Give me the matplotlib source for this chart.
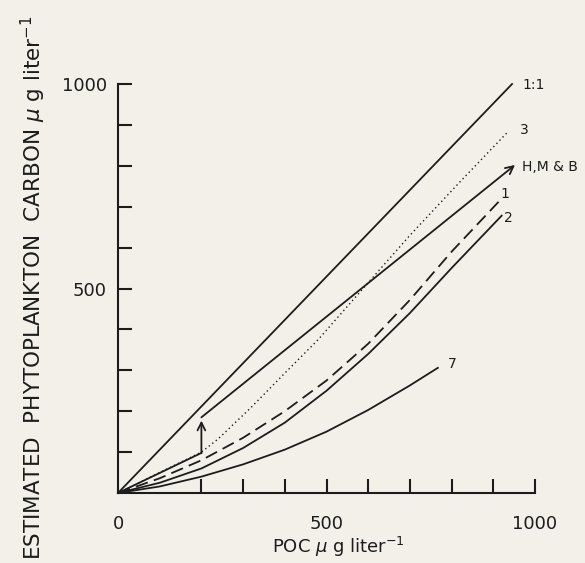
import matplotlib
matplotlib.use("Agg")
import matplotlib.pyplot as plt
import numpy as np

# curves (POC vs estimated phytoplankton carbon)
one_x = [0, 945]
one_y = [0, 1000]

c3_x = [0, 200, 240, 320, 400, 480, 592, 700, 824, 935]
c3_y = [0, 100, 132, 210, 293, 375, 505, 630, 765, 883]

hmb_low_x = [0, 200]
hmb_low_y = [0, 98]
hmb_step = (200, 98, 177)          # x, y from, y to (vertical arrow)
hmb_x = [200, 952]
hmb_y = [185, 802]

c1_x = [0, 100, 200, 300, 400, 500, 600, 700, 800, 921]
c1_y = [0, 36, 80, 135, 200, 275, 365, 472, 590, 721]

c2_x = [0, 100, 200, 300, 400, 500, 600, 700, 800, 920]
c2_y = [0, 25, 60, 110, 172, 250, 340, 440, 550, 678]

c7_x = [0, 100, 200, 300, 400, 500, 600, 700, 767]
c7_y = [0, 16, 40, 70, 106, 150, 203, 263, 306]

labels = ["1:1", "3", "H,M & B", "1", "2", "7"]
label_x = [969, 964, 969, 928, 935, 801]
label_y = [998, 888, 797, 731, 672, 315]
label_ha = ["left", "left", "left", "center", "center", "center"]

xticks = list(range(200, 1001, 100))
yticks = list(range(100, 1001, 100))
xtick_labels = {500: "500", 1000: "1000"}
ytick_labels = {500: "500", 1000: "1000"}

bg = "#f3f0e9"
ink = "#1c1c1c"

fig = plt.figure(figsize=(5.85, 5.63), dpi=100, facecolor=bg)
ax = fig.add_axes([118 / 585, 1 - 493 / 563, (535 - 118) / 585, (493 - 84) / 563])
ax.set_facecolor(bg)
ax.set_xlim(0, 1000)
ax.set_ylim(0, 1000)

lw = 1.3
ax.plot(one_x, one_y, color=ink, lw=lw, clip_on=False)
ax.plot(c3_x, c3_y, color=ink, lw=1.0, linestyle=(0, (1, 2.2)), clip_on=False)
ax.plot(hmb_low_x, hmb_low_y, color=ink, lw=lw)
ax.annotate("", xy=(hmb_step[0], hmb_step[2]), xytext=(hmb_step[0], hmb_step[1]),
            arrowprops=dict(arrowstyle="->", lw=lw, color=ink, shrinkA=0, shrinkB=0,
                            mutation_scale=14))
ax.annotate("", xy=(hmb_x[1], hmb_y[1]), xytext=(hmb_x[0], hmb_y[0]),
            arrowprops=dict(arrowstyle="->", lw=lw, color=ink, shrinkA=0, shrinkB=0,
                            mutation_scale=14), annotation_clip=False)
ax.plot(c1_x, c1_y, color=ink, lw=lw, linestyle=(0, (7, 3.5)), clip_on=False)
ax.plot(c2_x, c2_y, color=ink, lw=lw, clip_on=False)
ax.plot(c7_x, c7_y, color=ink, lw=lw, clip_on=False)

for t, x, y, ha in zip(labels, label_x, label_y, label_ha):
    ax.text(x, y, t, ha=ha, va="center", fontsize=10, color=ink, clip_on=False)

for s in ["top", "right"]:
    ax.spines[s].set_visible(False)
for s in ["left", "bottom"]:
    ax.spines[s].set_linewidth(1.5)
    ax.spines[s].set_color(ink)

ax.set_xticks(xticks, labels=[xtick_labels.get(v, "") for v in xticks])
ax.set_yticks(yticks, labels=[ytick_labels.get(v, "") for v in yticks])
ax.set_xticks([0], labels=["0"], minor=True)
ax.tick_params(which="both", direction="in", width=1.5, color=ink,
               labelsize=13, labelcolor=ink)
ax.tick_params(which="major", length=10)
ax.tick_params(which="minor", length=0)
ax.tick_params(axis="x", which="both", pad=16)
ax.tick_params(axis="y", which="both", pad=8)

fig.text(338 / 585, 1 - 547 / 563, "POC $\\mu$ g liter$^{-1}$", ha="center", va="center",
         fontsize=13, color=ink)
fig.text(33 / 585, 1 - 288 / 563, "ESTIMATED  PHYTOPLANKTON  CARBON $\\mu$ g liter$^{-1}$",
         ha="center", va="center", rotation=90, fontsize=15.5, color=ink)

fig.savefig("out.png", dpi=100, facecolor=bg)
